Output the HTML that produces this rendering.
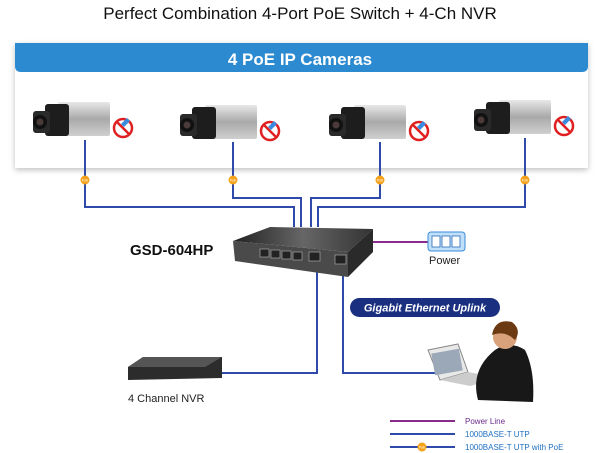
<!DOCTYPE html>
<html><head><meta charset="utf-8"><style>
body{margin:0;background:#fff;}
svg{display:block;font-family:"Liberation Sans",sans-serif;}
</style></head><body>
<svg width="600" height="453" viewBox="0 0 600 453" xmlns="http://www.w3.org/2000/svg">
<defs>
<linearGradient id="cam" x1="0" y1="0" x2="0" y2="1"><stop offset="0" stop-color="#e8e8e8"/><stop offset=".5" stop-color="#a9a9a9"/><stop offset="1" stop-color="#d0d0d0"/></linearGradient>
<linearGradient id="top" x1="0" y1="0" x2="1" y2="0"><stop offset="0" stop-color="#222"/><stop offset=".5" stop-color="#666"/><stop offset="1" stop-color="#333"/></linearGradient>
<filter id="sh" x="-5%" y="-10%" width="110%" height="130%"><feDropShadow dx="0" dy="2" stdDeviation="3" flood-color="#000" flood-opacity=".25"/></filter>
<g id="camera">
<rect x="25" y="-2" width="52" height="34" rx="2" fill="url(#cam)"/>
<rect x="12" y="0" width="24" height="32" rx="3" fill="#1d1d1d"/>
<rect x="0" y="7" width="17" height="22" rx="3" fill="#2a2a2a"/>
<circle cx="7" cy="18" r="7" fill="#111"/><circle cx="7" cy="18" r="3.5" fill="#4a3a3a"/>
<circle cx="90" cy="24" r="9" fill="none" stroke="#e02020" stroke-width="2.5"/>
<line x1="84" y1="18" x2="96" y2="30" stroke="#e02020" stroke-width="2.5"/>
<path d="M88 20 l6 -6 l3 3 l-6 6z" fill="#3a8ae0"/>
</g>
<g id="poe"><circle r="4.5" fill="#f4a21a"/><text y="1.5" font-size="3.5" fill="#fff" text-anchor="middle">PoE</text></g>
</defs>
<text x="300" y="19" font-size="17" text-anchor="middle" fill="#111">Perfect Combination 4-Port PoE Switch + 4-Ch NVR</text>
<rect x="15" y="43" width="573" height="125" fill="#fff" filter="url(#sh)"/>
<path d="M15 43 H588 V66 Q588 72 582 72 H21 Q15 72 15 66Z" fill="#2b8ad0"/>
<text x="300" y="65" font-size="17" font-weight="bold" fill="#fff" text-anchor="middle">4 PoE IP Cameras</text>
<g fill="none" stroke="#2f4aa8" stroke-width="2">
<path d="M85 140 V207 H294 V227"/>
<path d="M233 142 V198 H301 V227"/>
<path d="M380 142 V198 H311 V227"/>
<path d="M525 138 V207 H318 V227"/>
<path d="M317 268 V373 H218"/>
<path d="M343 268 V373 H435"/>
<line x1="390" y1="434" x2="455" y2="434"/>
<line x1="390" y1="447" x2="455" y2="447"/>
</g>
<g stroke="#8a2a8a" stroke-width="2"><line x1="372" y1="242" x2="428" y2="242"/><line x1="390" y1="421" x2="455" y2="421"/></g>
<use href="#camera" x="33" y="104"/><use href="#camera" x="180" y="107"/><use href="#camera" x="329" y="107"/><use href="#camera" x="474" y="102"/>
<use href="#poe" x="85" y="180"/><use href="#poe" x="233" y="180"/><use href="#poe" x="380" y="180"/><use href="#poe" x="525" y="180"/><use href="#poe" x="422" y="447"/>
<polygon points="233,241 270,227 373,229 348,252" fill="url(#top)"/>
<polygon points="348,252 373,229 373,252 348,277" fill="#2a2a2a"/>
<polygon points="233,241 348,252 348,277 235,261" fill="#4a4a4a"/>
<g fill="#222" stroke="#999" stroke-width=".8">
<rect x="260" y="249" width="9" height="8"/><rect x="271" y="250" width="9" height="8"/><rect x="282" y="251" width="9" height="8"/><rect x="293" y="252" width="9" height="8"/><rect x="309" y="252" width="11" height="9"/><rect x="335" y="255" width="11" height="9"/>
</g>
<text x="130" y="255" font-size="15" font-weight="bold" fill="#111">GSD-604HP</text>
<rect x="428" y="232" width="37" height="19" rx="3" fill="#bfe0f8" stroke="#3a8ad8"/>
<g fill="#fff" stroke="#2a6ab8" stroke-width=".8"><rect x="432" y="236" width="8" height="11"/><rect x="442" y="236" width="8" height="11"/><rect x="452" y="236" width="8" height="11"/></g>
<text x="429" y="264" font-size="11" fill="#222">Power</text>
<rect x="350" y="298" width="150" height="19" rx="9.5" fill="#1b2f80"/>
<text x="425" y="311.5" font-size="11" font-weight="bold" font-style="italic" fill="#fff" text-anchor="middle">Gigabit Ethernet Uplink</text>
<polygon points="128,367 143,357 222,357 222,378 128,380" fill="#2c2c2c"/>
<polygon points="128,367 143,357 222,357 205,367" fill="#555"/>
<text x="128" y="402" font-size="11" fill="#222">4 Channel NVR</text>
<polygon points="428,350 458,344 468,372 440,380" fill="#e8e8e8" stroke="#888"/>
<rect x="433" y="351" width="28" height="22" fill="#9aa8b8" transform="rotate(-10 447 362)"/>
<polygon points="440,380 468,372 500,378 470,386" fill="#ccc"/>
<path d="M478 400 Q470 370 495 350 Q510 340 525 350 Q535 370 533 402Z" fill="#181818"/>
<circle cx="505" cy="337" r="12" fill="#d9a27a"/>
<path d="M492 335 Q495 318 512 322 Q522 330 515 340 Q505 330 492 335Z" fill="#6b3a12"/>
<g font-size="8" fill="#1f6fc0"><text x="465" y="424" fill="#6a2a8a">Power Line</text><text x="465" y="437">1000BASE-T UTP</text><text x="465" y="450">1000BASE-T UTP with PoE</text></g>
</svg>
</body></html>
